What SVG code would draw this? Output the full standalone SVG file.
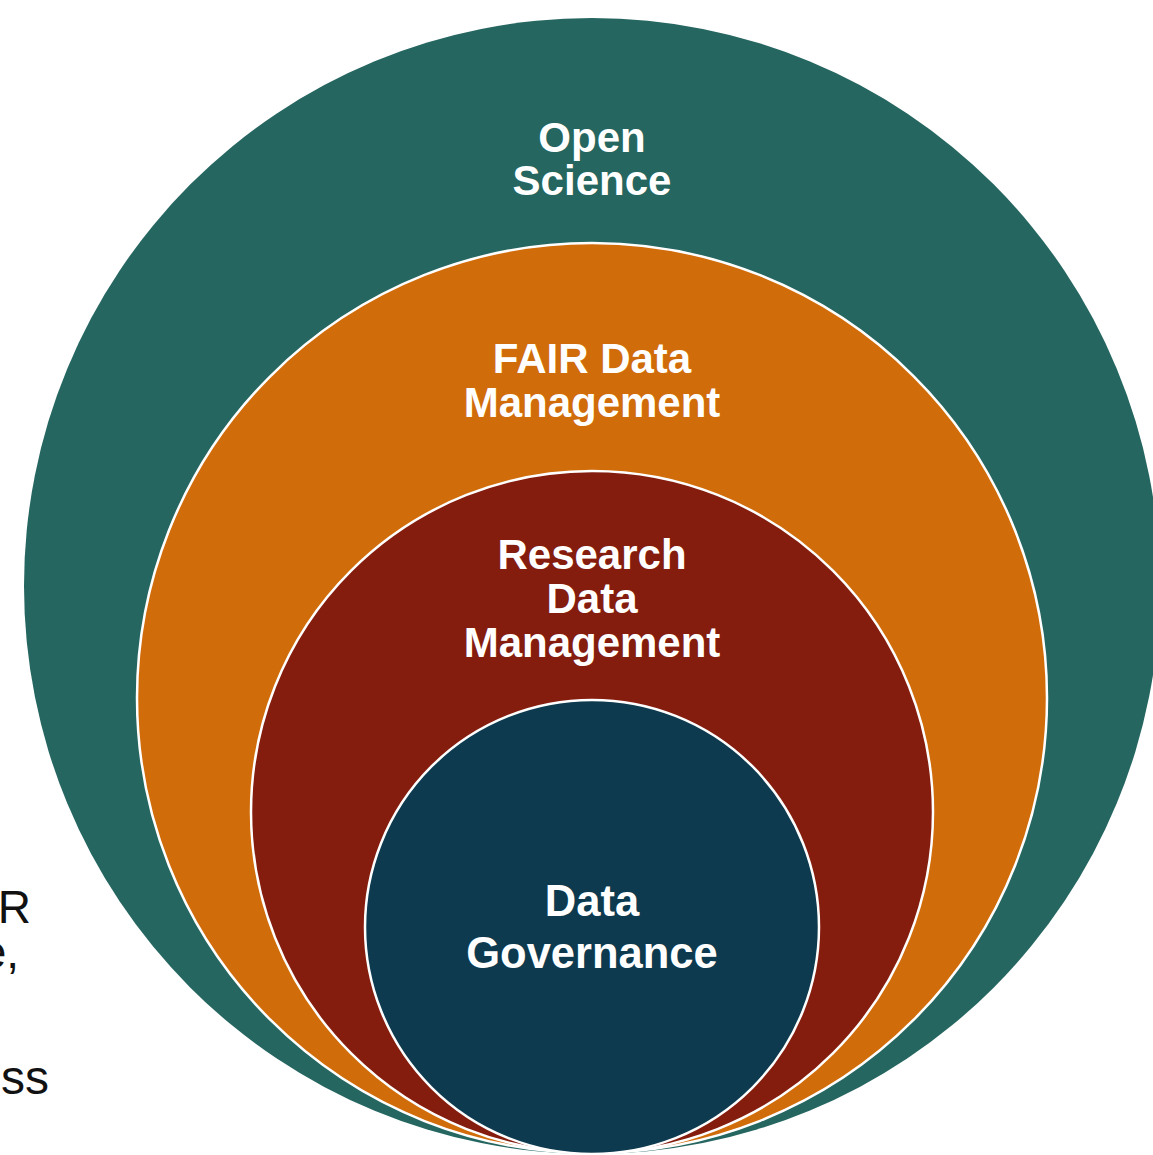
<svg xmlns="http://www.w3.org/2000/svg" width="1153" height="1155" viewBox="0 0 1153 1155">
<style>
.lbl{font-family:"Liberation Sans",Arial,sans-serif;font-weight:bold;fill:#ffffff;text-anchor:middle;font-size:42px}
.side{font-family:"Liberation Sans",Arial,sans-serif;fill:#111111;text-anchor:end;font-size:46px}
.ring{stroke:#ffffff;stroke-width:2.5}
</style>
<rect width="1153" height="1155" fill="#ffffff"/>
<g id="side-text">
<text class="side" x="31" y="923">R</text>
<text class="side" x="19" y="968">e,</text>
<text class="side" x="49" y="1094" style="font-size:48px">ss</text>
</g>
<g id="open-science">
<circle cx="592" cy="586" r="568" fill="#256660"/>
<text class="lbl" x="592" y="152">Open</text>
<text class="lbl" x="592" y="195">Science</text>
</g>
<g id="fair-data-management">
<circle class="ring" cx="592" cy="698" r="455" fill="#D16C0A"/>
<text class="lbl" x="592" y="373">FAIR Data</text>
<text class="lbl" x="592" y="417">Management</text>
</g>
<g id="research-data-management">
<circle class="ring" cx="592" cy="812" r="341" fill="#841D0E"/>
<text class="lbl" x="592" y="569">Research</text>
<text class="lbl" x="592" y="613">Data</text>
<text class="lbl" x="592" y="657">Management</text>
</g>
<g id="data-governance">
<circle class="ring" cx="592" cy="927" r="227" fill="#0D3A4F"/>
<text class="lbl" x="592" y="916" style="font-size:43.5px">Data</text>
<text class="lbl" x="592" y="968" style="font-size:43.5px">Governance</text>
</g>
<g id="connectors"></g>
</svg>
